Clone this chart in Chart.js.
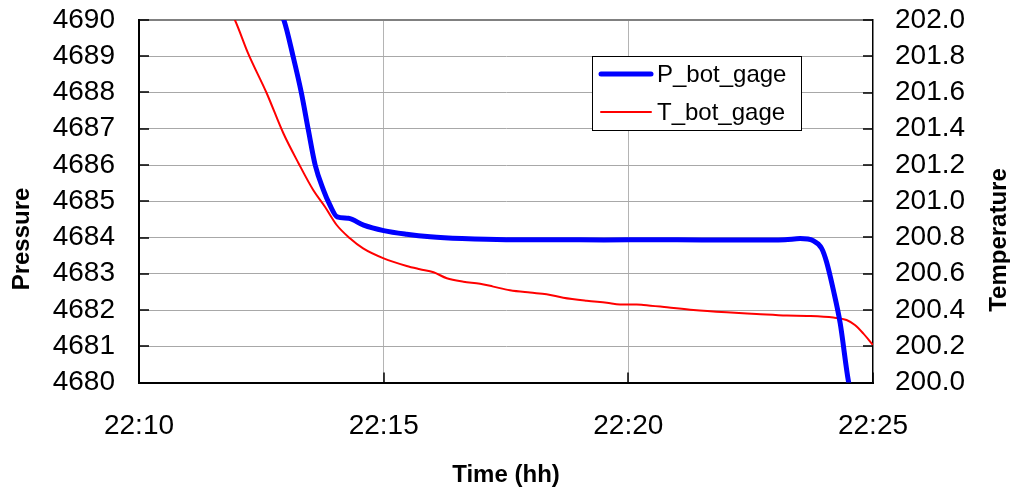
<!DOCTYPE html>
<html>
<head>
<meta charset="utf-8">
<script src="https://cdn.jsdelivr.net/npm/chart.js@4/dist/chart.umd.min.js"></script>
<style>
  html, body { margin: 0; padding: 0; background: #fff; }
  canvas { display: block; }
</style>
</head>
<body>
<canvas id="chart-gage" width="1010" height="487"></canvas>
<script>
// minutes after 22:00
var pTime = [12.80, 12.96, 13.15, 13.32, 13.46, 13.60, 13.77, 13.90, 14.05, 14.28, 14.59, 15.00, 15.47, 15.95, 16.60, 17.50, 18.50, 19.50, 20.50, 21.50, 22.50, 23.20, 23.51, 23.78, 23.95, 24.05, 24.19, 24.33, 24.50, 24.60];
var pVal  = [4690.40, 4690.00, 4688.99, 4687.98, 4686.97, 4686.00, 4685.31, 4684.90, 4684.57, 4684.53, 4684.34, 4684.19, 4684.09, 4684.02, 4683.97, 4683.94, 4683.94, 4683.93, 4683.94, 4683.93, 4683.93, 4683.94, 4683.97, 4683.91, 4683.70, 4683.33, 4682.55, 4681.63, 4680.02, 4679.50];

var tTime = [11.90, 11.96, 12.23, 12.61, 12.95, 13.26, 13.56, 13.80, 14.04, 14.31, 14.58, 15.00, 15.47, 15.74, 16.02, 16.29, 16.63, 16.97, 17.24, 17.58, 17.99, 18.33, 18.67, 19.15, 19.56, 19.83, 20.17, 20.31, 20.79, 21.33, 22.01, 22.62, 23.24, 23.65, 24.19, 24.46, 24.63, 24.80, 25.00];
var tVal  = [202.03, 202.00, 201.816, 201.596, 201.375, 201.21, 201.062, 200.97, 200.869, 200.796, 200.74, 200.685, 200.643, 200.625, 200.608, 200.575, 200.556, 200.545, 200.529, 200.509, 200.496, 200.487, 200.468, 200.451, 200.44, 200.431, 200.431, 200.428, 200.415, 200.40, 200.387, 200.378, 200.369, 200.367, 200.358, 200.345, 200.317, 200.271, 200.207];

var xTickLabels = ['22:10', '22:15', '22:20', '22:25'];
var xTickValues = [10, 15, 20, 25];
var seriesNames = ['P_bot_gage', 'T_bot_gage'];
var axisTitles = ['Pressure', 'Temperature', 'Time (hh)'];

function pairs(xs, ys) {
  return xs.map(function(x, i) { return { x: x, y: ys[i] }; });
}

Chart.defaults.font.family = "'Liberation Sans', Arial, sans-serif";
Chart.defaults.color = '#000';

// inward tick marks, y axis titles and the boxed legend
var excelLook = {
  id: 'excelLook',
  afterDraw: function(chart) {
    var ctx = chart.ctx, a = chart.chartArea;
    var sy = chart.scales.y, sy1 = chart.scales.y1, sx = chart.scales.x;
    ctx.save();
    ctx.strokeStyle = '#000';
    ctx.lineWidth = 1.5;
    ctx.beginPath();
    sy.ticks.forEach(function(t) {
      var py = Math.round(sy.getPixelForValue(t.value));
      ctx.moveTo(a.left, py); ctx.lineTo(a.left + 10, py);
    });
    sy1.ticks.forEach(function(t) {
      var py = Math.round(sy1.getPixelForValue(t.value));
      ctx.moveTo(a.right, py); ctx.lineTo(a.right - 10, py);
    });
    sx.ticks.forEach(function(t) {
      var px = Math.round(sx.getPixelForValue(t.value));
      ctx.moveTo(px, a.bottom); ctx.lineTo(px, a.bottom - 10);
    });
    ctx.stroke();

    // axis titles, both read bottom to top
    ctx.fillStyle = '#000';
    ctx.font = "bold 24px 'Liberation Sans', Arial, sans-serif";
    ctx.textAlign = 'center';
    ctx.textBaseline = 'middle';
    [[22, 239, axisTitles[0]], [999, 240, axisTitles[1]]].forEach(function(t) {
      ctx.save();
      ctx.translate(t[0], t[1]);
      ctx.rotate(-Math.PI / 2);
      ctx.fillText(t[2], 0, 0);
      ctx.restore();
    });

    // legend
    var bx = 592.5, by = 56.5, bw = 209, bh = 74;
    ctx.fillStyle = '#fff';
    ctx.fillRect(bx, by, bw, bh);
    ctx.strokeStyle = '#000';
    ctx.lineWidth = 1;
    ctx.strokeRect(bx, by, bw, bh);
    ctx.font = "24px 'Liberation Sans', Arial, sans-serif";
    ctx.textAlign = 'left';
    chart.data.datasets.forEach(function(ds, i) {
      var ly = 74 + i * 38;
      ctx.strokeStyle = ds.borderColor;
      ctx.lineWidth = ds.borderWidth;
      ctx.lineCap = 'round';
      ctx.beginPath();
      ctx.moveTo(601, ly); ctx.lineTo(651, ly);
      ctx.stroke();
      ctx.fillStyle = '#000';
      ctx.fillText(ds.label, 657, ly + 1);
    });
    ctx.restore();
  }
};

function noPadY(s) { s.paddingTop = 0; s.paddingBottom = 0; }

new Chart(document.getElementById('chart-gage').getContext('2d'), {
  type: 'line',
  data: {
    datasets: [{
      label: seriesNames[0],
      data: pairs(pTime, pVal),
      yAxisID: 'y',
      borderColor: '#0000ff',
      borderWidth: 5,
      pointRadius: 0,
      cubicInterpolationMode: 'monotone',
      fill: false
    }, {
      label: seriesNames[1],
      data: pairs(tTime, tVal),
      yAxisID: 'y1',
      borderColor: '#ff0000',
      borderWidth: 2,
      pointRadius: 0,
      cubicInterpolationMode: 'monotone',
      fill: false
    }]
  },
  options: {
    responsive: false,
    animation: false,
    layout: { padding: { top: 20, left: 0, right: 0, bottom: 0 } },
    plugins: { legend: { display: false }, tooltip: { enabled: false } },
    scales: {
      x: {
        type: 'linear',
        min: 10, max: 25,
        afterBuildTicks: function(s) { s.ticks = xTickValues.map(function(v) { return { value: v }; }); },
        afterFit: function(s) { s.height = 104.5; s.paddingLeft = 0; s.paddingRight = 0; },
        ticks: {
          font: { size: 28 },
          padding: 27,
          maxRotation: 0,
          autoSkip: false,
          callback: function(v) { return xTickLabels[xTickValues.indexOf(v)]; }
        },
        grid: {
          drawTicks: false,
          color: function(c) { return (c.tick && (c.tick.value === 10 || c.tick.value === 25)) ? 'rgba(0,0,0,0)' : '#b4b4b4'; }
        },
        border: { display: true, color: '#000', width: 2 },
        title: {
          display: true,
          text: axisTitles[2],
          font: { size: 24, weight: 'bold', lineHeight: 1 },
          padding: { top: 0, bottom: 0 }
        }
      },
      y: {
        position: 'left',
        min: 4680, max: 4690,
        afterFit: function(s) { s.width = 139; noPadY(s); },
        ticks: {
          stepSize: 1,
          autoSkip: false,
          font: { size: 28 },
          padding: 24,
          callback: function(v) { return String(v); }
        },
        grid: {
          drawTicks: false,
          color: function(c) { return (c.tick && c.tick.value === 4690) ? '#808080' : '#a8a8a8'; },
          lineWidth: function(c) { return (c.tick && c.tick.value === 4690) ? 2 : 1; }
        },
        border: { display: true, color: '#000', width: 2 }
      },
      y1: {
        position: 'right',
        min: 200, max: 202,
        afterFit: function(s) { s.width = 137; noPadY(s); },
        ticks: {
          stepSize: 0.2,
          autoSkip: false,
          font: { size: 28 },
          padding: 22,
          callback: function(v) { return Number(v).toFixed(1); }
        },
        grid: { display: false, drawTicks: false },
        border: { display: true, color: '#000', width: 1.5 }
      }
    }
  },
  plugins: [excelLook]
});
</script>
</body>
</html>
